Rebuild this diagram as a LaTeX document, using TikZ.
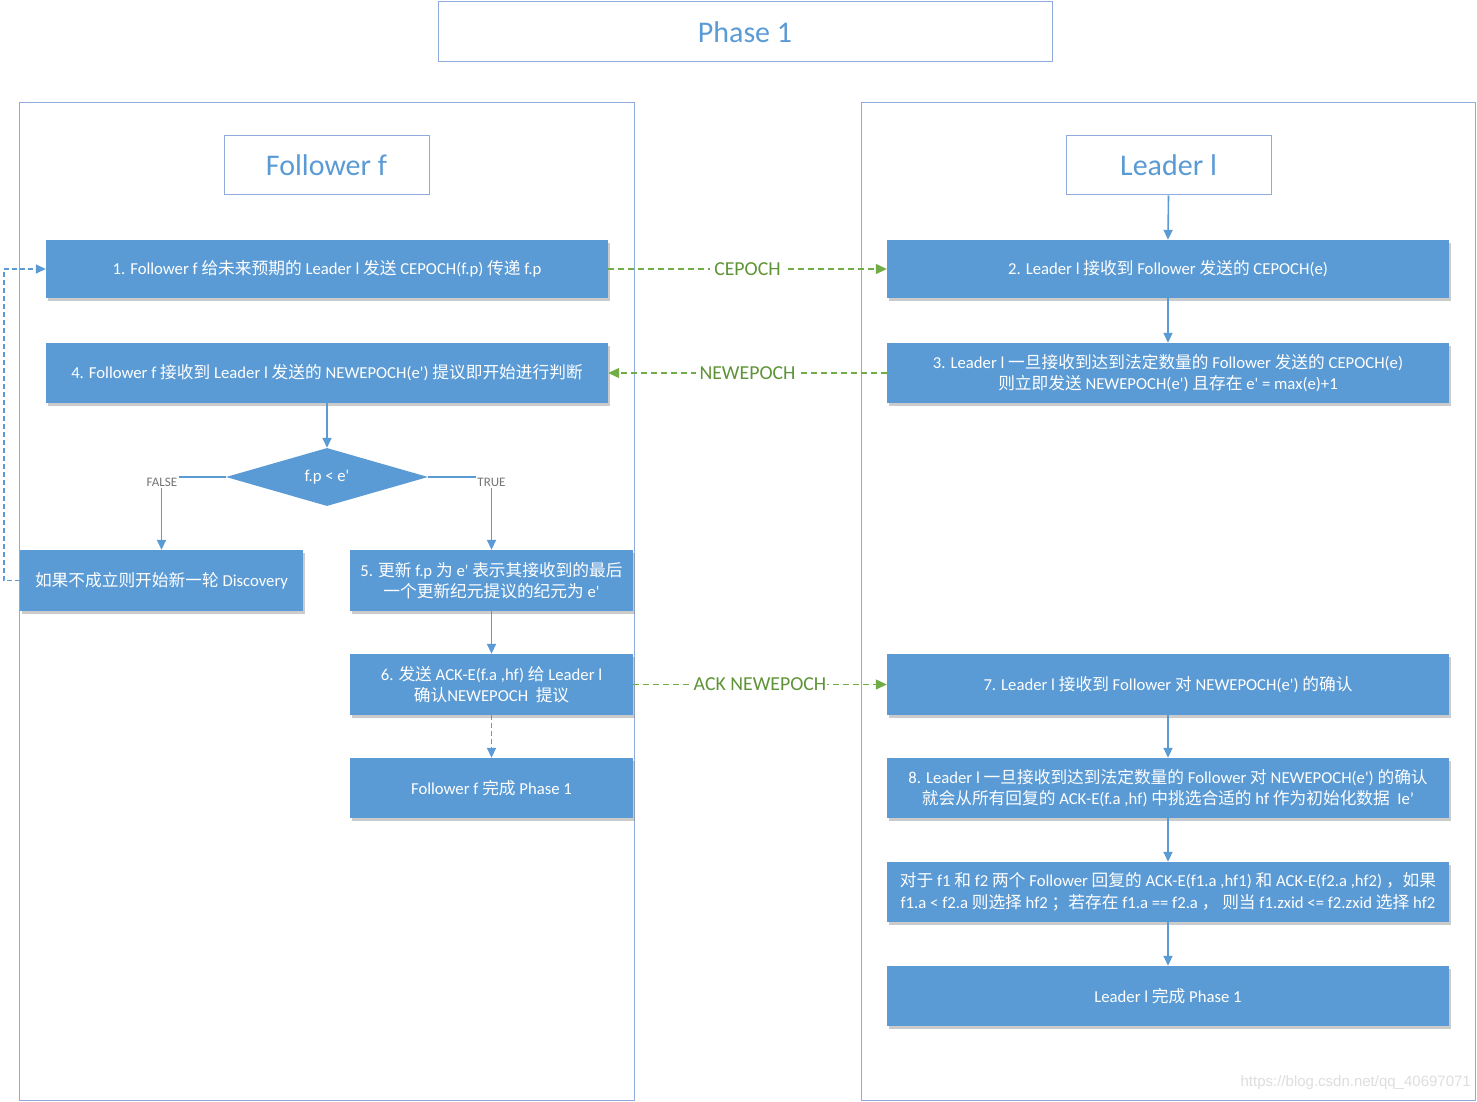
\documentclass[tikz,border=0pt]{standalone}
\usepackage{fontspec}
\usetikzlibrary{arrows.meta,shapes.geometric,shadows}
\newfontfamily\latf{Carlito}
\newfontfamily\zhf{Noto Sans CJK SC}
\newcommand\z[1]{{\zhf #1}}
\definecolor{bfill}{HTML}{5B9BD5}
\definecolor{bline}{HTML}{5B9BD5}
\definecolor{pborder}{HTML}{8FAADC}
\definecolor{tblue}{HTML}{5B9BD5}
\definecolor{gline}{HTML}{70AD47}
\definecolor{gtext}{HTML}{5E9437}
\begin{document}
\begin{tikzpicture}[x=1pt,y=-1pt,font=\latf,
  panel/.style={draw=pborder,line width=1pt,fill=none,inner sep=0},
  tbox/.style={draw=pborder,line width=1pt,fill=white,text=tblue,inner sep=0,font=\latf\fontsize{30}{34}\selectfont},
  box/.style={fill=bfill,draw=none,text=white,align=center,inner sep=0,
    font=\latf\fontsize{16.7}{21.5}\selectfont,
    drop shadow={shadow xshift=1.5pt,shadow yshift=-2.5pt,fill=black!45,opacity=0.45}},
  dia/.style={diamond,aspect=3.5,fill=bfill,draw=none,text=white,inner sep=0,
    minimum width=202pt,minimum height=58pt,font=\latf\fontsize{16.7}{20}\selectfont},
  conn/.style={draw=bline,line width=1.6pt,-{Triangle[length=10pt,width=9pt]}},
  dashconn/.style={conn,dash pattern=on 5pt off 3pt},
  gconn/.style={draw=gline,line width=1.3pt,dash pattern=on 6pt off 4pt,-{Triangle[length=11pt,width=10pt]}},
  glabel/.style={fill=white,text=gtext,inner sep=4pt,font=\latf\fontsize{19.8}{22}\selectfont},
  tf/.style={fill=white,text=black!55,inner sep=1.5pt,font=\latf\fontsize{13}{14}\selectfont}
]
\useasboundingbox (0,0) rectangle (1477,1102);
\fill[white] (0,0) rectangle (1477,1102);

% panels
\node[panel,minimum width=615pt,minimum height=997pt] (lp) at (326.5,601.5) {};
\node[panel,minimum width=614pt,minimum height=997pt] (rp) at (1168,601.5) {};

% titles
\node[tbox,minimum width=614pt,minimum height=60pt] (phase) at (745,32) {Phase 1};
\node[tbox,minimum width=205pt,minimum height=59pt] (fol) at (326.5,165.5) {Follower f};
\node[tbox,minimum width=205pt,minimum height=59pt] (lea) at (1168.5,165.5) {Leader l};

% left column
\node[box,minimum width=562pt,minimum height=58pt] (b1) at (327,269)
  {1. Follower f \z{给未来预期的} Leader l \z{发送} CEPOCH(f.p) \z{传递} f.p};
\node[box,minimum width=562pt,minimum height=60pt] (b4) at (327,373)
  {4. Follower f \z{接收到} Leader l \z{发送的} NEWEPOCH(e') \z{提议即开始进行判断}};
\node[dia] (d) at (327,477) {f.p < e'};
\node[box,minimum width=283pt,minimum height=61pt] (fb) at (161.5,580.5)
  {\z{如果不成立则开始新一轮} Discovery};
\node[box,minimum width=283pt,minimum height=61pt] (b5) at (491.5,580.5)
  {5. \z{更新} f.p \z{为} e' \z{表示其接收到的最后}\\\z{一个更新纪元提议的纪元为} e'};
\node[box,minimum width=283pt,minimum height=61pt] (b6) at (491.5,684.5)
  {6. \z{发送} ACK-E(f.a ,hf) \z{给} Leader l\\\z{确认}NEWEPOCH \ \z{提议}};
\node[box,minimum width=283pt,minimum height=60pt] (fd) at (491.5,788)
  {Follower f \z{完成} Phase 1};

% right column
\node[box,minimum width=562pt,minimum height=58pt] (b2) at (1168,269)
  {2. Leader l \z{接收到} Follower \z{发送的} CEPOCH(e)};
\node[box,minimum width=562pt,minimum height=60pt] (b3) at (1168,373)
  {3. Leader l \z{一旦接收到达到法定数量的} Follower \z{发送的} CEPOCH(e)\\\z{则立即发送} NEWEPOCH(e') \z{且存在} e' = max(e)+1};
\node[box,minimum width=562pt,minimum height=61pt] (b7) at (1168,684.5)
  {7. Leader l \z{接收到} Follower \z{对} NEWEPOCH(e') \z{的确认}};
\node[box,minimum width=562pt,minimum height=60pt] (b8) at (1168,788)
  {8. Leader l \z{一旦接收到达到法定数量的} Follower \z{对} NEWEPOCH(e') \z{的确认}\\\z{就会从所有回复的} ACK-E(f.a ,hf) \z{中挑选合适的} hf \z{作为初始化数据} \ Ie’};
\node[box,minimum width=562pt,minimum height=60pt] (b9) at (1168,892)
  {\z{对于} f1 \z{和} f2 \z{两个} Follower \z{回复的} ACK-E(f1.a ,hf1) \z{和} ACK-E(f2.a ,hf2) \z{，如果}\\f1.a < f2.a \z{则选择} hf2 \z{；若存在} f1.a == f2.a \z{，} \z{则当} f1.zxid <= f2.zxid \z{选择} hf2};
\node[box,minimum width=562pt,minimum height=60pt] (ld) at (1168,996)
  {Leader l \z{完成} Phase 1};

% blue connectors
\draw[conn] (b4.south) -- (d.north);
\draw[conn] (d.west) -| (fb.north);
\draw[conn] (d.east) -| (b5.north);
\node[tf] (tfF) at (162,482) {FALSE};
\node[tf] (tfT) at (491.5,482) {TRUE};
\draw[conn] (b5.south) -- (b6.north);
\draw[dashconn] (b6.south) -- (fd.north);
\draw[dashconn] (fb.west) -- ++(-16,0) |- (b1.west);

\draw[conn] (lea.south) -- (b2.north);
\draw[conn] (b2.south) -- (b3.north);
\draw[conn] (b7.south) -- (b8.north);
\draw[conn] (b8.south) -- (b9.north);
\draw[conn] (b9.south) -- (ld.north);

% green messages
\draw[gconn] (b1.east) -- node[glabel] (lc) {CEPOCH} (b2.west);
\draw[gconn] (b3.west) -- node[glabel] (ln) {NEWEPOCH} (b4.east);
\draw[gconn] (b6.east) -- node[glabel,inner xsep=1pt] (la) {ACK NEWEPOCH} (b7.west);

% watermark
\node[anchor=east,text=black!13,inner sep=0,font=\fontspec{Liberation Sans}\fontsize{15}{16}\selectfont] (wm) at (1471,1083) {https://blog.csdn.net/qq\_40697071};
\end{tikzpicture}
\end{document}
